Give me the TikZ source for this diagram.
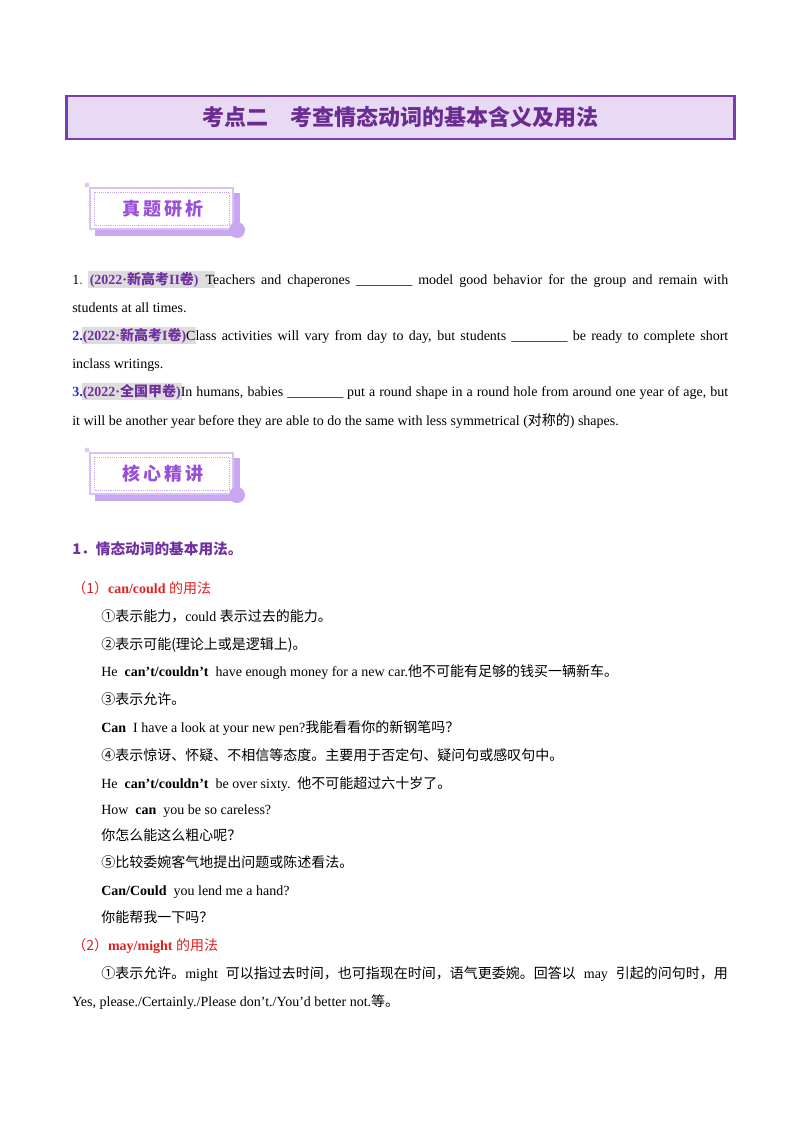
\documentclass[tikz,border=0pt]{standalone}
\usepackage{fontspec}
\setmainfont{Liberation Serif}
\newfontfamily\cjk{Noto Sans CJK SC}
\newcommand{\C}[1]{{\cjk #1}}
\newcommand{\ap}{{\char"0027}}
\definecolor{ttl}{HTML}{6A2C91}
\definecolor{tbox}{HTML}{E8DAF5}
\definecolor{tbd}{HTML}{7A3DB0}
\definecolor{bdg}{HTML}{9A4FD8}
\definecolor{bdgl}{HTML}{C9A6F0}
\definecolor{yr}{HTML}{7030A0}
\definecolor{nb}{HTML}{2030E0}
\definecolor{rd}{HTML}{E02020}
\definecolor{hl}{HTML}{DDDDDD}
\begin{document}
\begin{tikzpicture}[x=0.75pt,y=-0.75pt,
  ln/.style={anchor=base west,inner sep=0pt,font=\fontsize{10.5}{12}\selectfont},
  hd/.style={anchor=base west,inner sep=0pt,font=\fontsize{11}{12}\selectfont\bfseries\cjk}]
\useasboundingbox (0,0) rectangle (800,1132);
\newcommand{\just}[2]{\parbox{#1}{\parfillskip=0pt\relax #2}}
\newcommand{\yrb}[1]{\textcolor{yr}{\bfseries #1}}
\newcommand{\badge}[4]{%
  \fill[bdgl] (#1+5,#2+5) rectangle (#1+150,#2+48);
  \draw[bdgl!70,line width=0.8pt,fill=white] (#1,#2) rectangle (#1+143,#2+41);
  \draw[bdgl,densely dotted] (#1+4,#2+4) rectangle (#1+139,#2+37);
  \fill[bdgl] (#1+147,#2+42) circle (8);
  \fill[bdgl!60] (#1-3,#2-3) circle (2.5);
  \node[font=\fontsize{13.5}{15}\selectfont\bfseries\cjk,text=bdg] (#4) at (#1+73,#2+21) {#3};}
% title
\node[draw=tbd,line width=1.6pt,fill=tbox,minimum width=668*0.75pt,minimum height=43*0.75pt,
  font=\fontsize{16.5}{18}\selectfont\bfseries\cjk,text=ttl] (title) at (400.5,117.5) {考点二\quad 考查情态动词的基本含义及用法};
\badge{90}{188}{真\,题\,研\,析}{b1}
\badge{90}{453}{核\,心\,精\,讲}{b2}
% questions
\fill[hl] (88,271) rectangle (215,288);
\node[ln] (q1) at (72,284) {\just{492pt}{1\textcolor{rd}{.}\enspace\yrb{(2022·\C{新高考}II\C{卷})}\enspace Teachers and chaperones \_\_\_\_\_\_\_\_ model good behavior for the group and remain with}};
\node[ln] (q1b) at (72,312) {students at all times.};
\fill[hl] (82,327) rectangle (196,344);
\node[ln] (q2) at (72,340) {\just{492pt}{\textcolor{nb}{\bfseries 2.}\yrb{(2022·\C{新高考}I\C{卷})}Class activities will vary from day to day, but students \_\_\_\_\_\_\_\_ be ready to complete short}};
\node[ln] (q2b) at (72,368) {inclass writings.};
\fill[hl] (82,383) rectangle (182,400);
\node[ln] (q3) at (72,396) {\just{492pt}{\textcolor{nb}{\bfseries 3.}\yrb{(2022·\C{全国甲卷})}In humans, babies \_\_\_\_\_\_\_\_ put a round shape in a round hole from around one year of age, but}};
\node[ln] (q3b) at (72,425) {it will be another year before they are able to do the same with less symmetrical (\C{对称的}) shapes.};
% section
\node[hd,text=yr] (s1) at (72,554) {1．情态动词的基本用法。};
\node[ln,text=rd] (p1) at (72,593) {\C{（1）}\textbf{can/could} \C{的用法}};
\node[ln] (l1) at (101,621) {\C{①表示能力，}could \C{表示过去的能力。}};
\node[ln] (l2) at (101,649) {\C{②表示可能(理论上或是逻辑上)。}};
\node[ln] (l3) at (101,676) {He\enspace\textbf{can\ap t/couldn\ap t}\enspace have enough money for a new car.\C{他不可能有足够的钱买一辆新车。}};
\node[ln] (l4) at (101,704) {\C{③表示允许。}};
\node[ln] (l5) at (101,732) {\textbf{Can}\enspace I have a look at your new pen?\C{我能看看你的新钢笔吗？}};
\node[ln] (l6) at (101,760) {\C{④表示惊讶、怀疑、不相信等态度。主要用于否定句、疑问句或感叹句中。}};
\node[ln] (l7) at (101,788) {He\enspace\textbf{can\ap t/couldn\ap t}\enspace be over sixty.\enspace\C{他不可能超过六十岁了。}};
\node[ln] (l8) at (101,814) {How\enspace\textbf{can}\enspace you be so careless?};
\node[ln] (l9) at (101,840) {\C{你怎么能这么粗心呢？}};
\node[ln] (l10) at (101,867) {\C{⑤比较委婉客气地提出问题或陈述看法。}};
\node[ln] (l11) at (101,895) {\textbf{Can/Could}\enspace you lend me a hand?};
\node[ln] (l12) at (101,922) {\C{你能帮我一下吗？}};
\node[ln,text=rd] (p2) at (72,950) {\C{（2）}\textbf{may/might} \C{的用法}};
\node[ln] (m1) at (101,978) {\just{470pt}{\C{①表示允许。}might \C{可以指过去时间，也可指现在时间，语气更委婉。回答以} may \C{引起的问句时，用}}};
\node[ln] (m2) at (72,1006) {Yes, please./Certainly./Please don\ap t./You\ap d better not.\C{等。}};
\end{tikzpicture}
\end{document}
